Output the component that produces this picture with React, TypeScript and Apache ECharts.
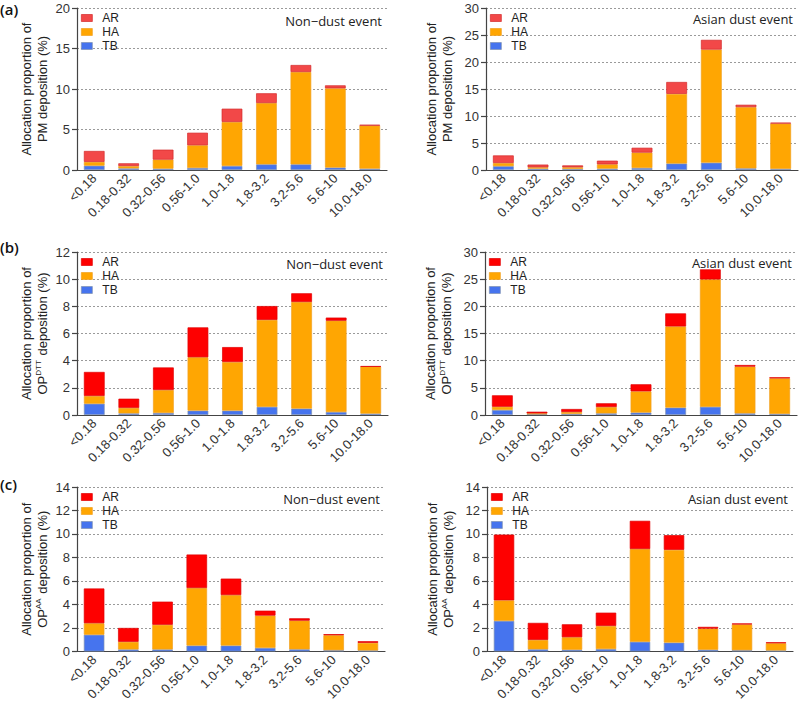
import React, { useEffect, useRef } from "react";
import * as echarts from "echarts";

const categories = ["<0.18", "0.18-0.32", "0.32-0.56", "0.56-1.0", "1.0-1.8", "1.8-3.2", "3.2-5.6", "5.6-10", "10.0-18.0"];
const seriesNames = ["TB", "HA", "AR"];

const pmNonDustTB = [0.53, 0.2, 0.16, 0.25, 0.5, 0.7, 0.7, 0.3, 0.16];
const pmNonDustHA = [0.47, 0.29, 1.12, 2.8, 5.43, 7.57, 11.4, 9.78, 5.31];
const pmNonDustAR = [1.35, 0.34, 1.23, 1.55, 1.64, 1.2, 0.86, 0.37, 0.12];

const pmDustTB = [0.7, 0.25, 0.2, 0.25, 0.37, 1.2, 1.35, 0.3, 0.2];
const pmDustHA = [0.6, 0.25, 0.3, 0.8, 2.85, 12.9, 20.95, 11.35, 8.4];
const pmDustAR = [1.4, 0.5, 0.35, 0.68, 0.9, 2.2, 1.8, 0.43, 0.17];

const dttNonDustTB = [0.83, 0.12, 0.15, 0.32, 0.32, 0.6, 0.47, 0.22, 0.1];
const dttNonDustHA = [0.57, 0.4, 1.69, 3.93, 3.58, 6.4, 7.85, 6.72, 3.46];
const dttNonDustAR = [1.77, 0.68, 1.66, 2.2, 1.1, 1.02, 0.64, 0.23, 0.03];

const dttDustTB = [0.92, 0.15, 0.2, 0.3, 0.45, 1.35, 1.5, 0.3, 0.2];
const dttDustHA = [0.6, 0.15, 0.35, 1.17, 3.9, 14.95, 23.45, 8.6, 6.55];
const dttDustAR = [2.1, 0.3, 0.55, 0.68, 1.3, 2.4, 1.85, 0.3, 0.18];

const aaNonDustTB = [1.42, 0.17, 0.17, 0.5, 0.5, 0.3, 0.18, 0.1, 0.08];
const aaNonDustHA = [0.98, 0.65, 2.1, 4.9, 4.3, 2.75, 2.44, 1.28, 0.65];
const aaNonDustAR = [2.96, 1.18, 1.97, 2.85, 1.4, 0.42, 0.2, 0.09, 0.14];

const aaDustTB = [2.6, 0.18, 0.14, 0.2, 0.82, 0.75, 0.14, 0.1, 0.08];
const aaDustHA = [1.75, 0.8, 1.07, 1.97, 7.9, 7.9, 1.8, 2.2, 0.62];
const aaDustAR = [5.6, 1.45, 1.1, 1.13, 2.4, 1.25, 0.15, 0.08, 0.08];

const yMaxes = [20, 30, 12, 30, 14, 14];
const yIntervals = [5, 5, 2, 5, 2, 2];
const eventLabels = ["Non\u2212dust event", "Asian dust event", "Non\u2212dust event", "Asian dust event", "Non\u2212dust event", "Asian dust event"];
const panelLetters = ["(a)", "(b)", "(c)"];
const yTitles = [
  "Allocation proportion of\nPM deposition (%)",
  "Allocation proportion of\nPM deposition (%)",
  "Allocation proportion of\nOP{s|DTT} deposition (%)",
  "Allocation proportion of\nOP{s|DTT} deposition (%)",
  "Allocation proportion of\nOP{s|AA} deposition (%)",
  "Allocation proportion of\nOP{s|AA} deposition (%)",
];

const panelData = [
  [pmNonDustTB, pmNonDustHA, pmNonDustAR],
  [pmDustTB, pmDustHA, pmDustAR],
  [dttNonDustTB, dttNonDustHA, dttNonDustAR],
  [dttDustTB, dttDustHA, dttDustAR],
  [aaNonDustTB, aaNonDustHA, aaNonDustAR],
  [aaDustTB, aaDustHA, aaDustAR],
];

// layout
const grids = [
  { left: 77, top: 8, width: 310, height: 162 },
  { left: 486, top: 8, width: 312, height: 162 },
  { left: 77, top: 252, width: 311, height: 163 },
  { left: 485, top: 252, width: 312, height: 163 },
  { left: 77, top: 487, width: 308, height: 166 },
  { left: 487, top: 487, width: 306, height: 166 },
];
const letterY = [1, 239, 476];
const eventDy = [13, 11, 12, 11, 12, 12];
const FONT = "'Liberation Sans', Arial, sans-serif";

export default function App() {
  const ref = useRef<HTMLDivElement>(null);
  useEffect(() => {
    if (!ref.current) return;
    const chart = echarts.init(ref.current, null, { renderer: "svg" });

    const colorsFor = (p: number) => {
      const ar = p < 2 ? "#f24848" : "#fe0000";
      const arBorder = p < 2 ? "#d42a2a" : "#e00000";
      return {
        TB: { color: "#4674ee", border: "#8090b0" },
        HA: { color: "#ffa602", border: "#f0a020" },
        AR: { color: ar, border: arBorder },
      } as any;
    };

    const series: any[] = [];
    panelData.forEach((arrs, p) => {
      const c = colorsFor(p);
      arrs.forEach((vals, k) => {
        const nm = seriesNames[k];
        series.push({
          type: "bar",
          name: nm,
          xAxisIndex: p,
          yAxisIndex: p,
          stack: "s" + p,
          barWidth: "60%",
          data: vals,
          itemStyle: { color: c[nm].color, borderColor: c[nm].border, borderWidth: 0.7 },
        });
      });
    });

    const legends = grids.map((g, p) => {
      const c = colorsFor(p);
      return {
        orient: "vertical",
        left: g.left + 4,
        top: g.top + 4,
        itemWidth: 11,
        itemHeight: 7,
        itemGap: 2,
        padding: 0,
        selectedMode: false,
        icon: "rect",
        textStyle: { fontFamily: FONT, fontSize: 12, lineHeight: 11, color: "#222", padding: [0, 0, 0, 5] },
        data: ["AR", "HA", "TB"].map((n) => ({ name: n, itemStyle: { color: c[n].color, borderColor: c[n].border, borderWidth: 0.7 } })),
      };
    });

    const graphic: any[] = [];
    panelLetters.forEach((t, i) => {
      graphic.push({
        type: "text",
        x: 0,
        y: letterY[i],
        style: { text: t, font: "600 15px 'Open Sans', sans-serif", fill: "#111", verticalAlign: "top" },
      });
    });
    eventLabels.forEach((t, p) => {
      const g = grids[p];
      graphic.push({
        type: "text",
        x: g.left + g.width - 5,
        y: g.top + eventDy[p],
        style: { text: t, font: "13px 'Open Sans', sans-serif", fill: "#222", align: "right", verticalAlign: "middle" },
      });
    });

    const option: any = {
      animation: false,
      backgroundColor: "#fff",
      grid: grids.map((g) => ({ ...g, containLabel: false })),
      legend: legends,
      graphic,
      xAxis: grids.map((g, p) => ({
        type: "category",
        gridIndex: p,
        data: categories,
        axisLine: { lineStyle: { color: "#444", width: 1.2 } },
        axisTick: { length: 5, lineStyle: { color: "#444", width: 1.2 } },
        axisLabel: {
          rotate: 45,
          interval: 0,
          margin: 6,
          fontSize: 13,
          color: "#333",
          fontFamily: FONT,
        },
        splitLine: { show: false },
      })),
      yAxis: grids.map((g, p) => {
        const n = yMaxes[p] / yIntervals[p] + 1;
        const cols = Array.from({ length: n }, (_, i) => (i === 0 ? "rgba(0,0,0,0)" : "#9a9a9a"));
        return {
          type: "value",
          gridIndex: p,
          min: 0,
          max: yMaxes[p],
          interval: yIntervals[p],
          name: yTitles[p],
          nameLocation: "middle",
          nameGap: p % 2 === 0 ? 27 : 31,
          nameTextStyle: {
            fontFamily: FONT,
            fontSize: 13,
            color: "#222",
            lineHeight: 16,
            align: "center",
            rich: {
              s: { fontSize: 8, verticalAlign: "top", lineHeight: 16, fontFamily: FONT, color: "#222", padding: [0, 1, 6, 0] },
            },
          },
          axisLine: { show: true, lineStyle: { color: "#444", width: 1.2 } },
          axisTick: { show: true, length: 5, lineStyle: { color: "#444", width: 1.2 } },
          axisLabel: { fontSize: 13, color: "#333", margin: 7, fontFamily: FONT },
          splitLine: { show: true, lineStyle: { color: cols, type: [2, 2], width: 1 } },
        };
      }),
      series,
    };
    chart.setOption(option);
    return () => chart.dispose();
  }, []);
  return <div ref={ref} style={{ position: "fixed", left: 0, top: 0, width: 800, height: 703, background: "#fff" }} />;
}
